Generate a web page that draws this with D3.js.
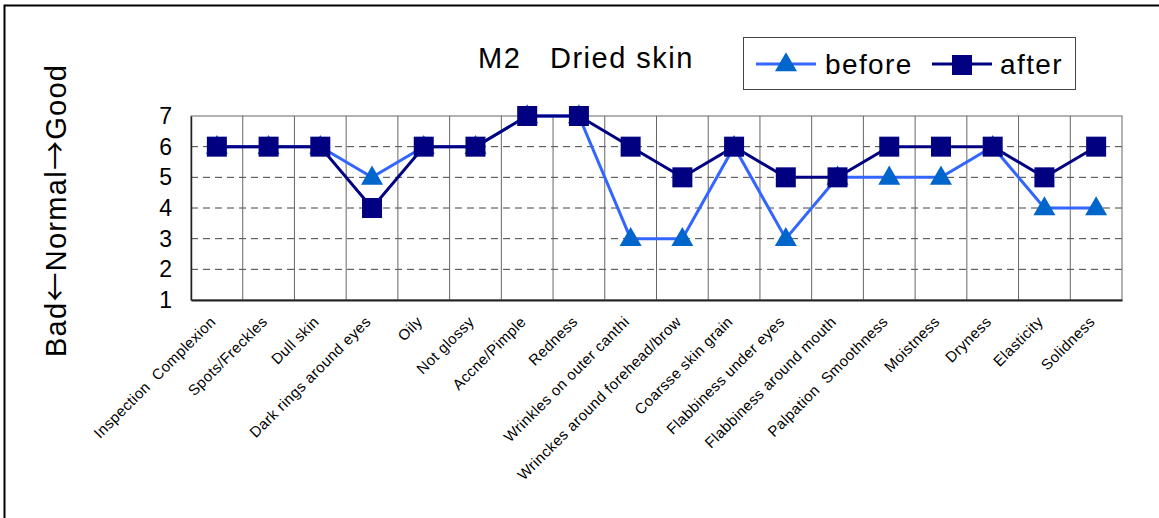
<!DOCTYPE html>
<html>
<head>
<meta charset="utf-8">
<script src="https://cdn.jsdelivr.net/npm/d3@7"></script>
<style>
  body { margin: 0; background: #fff; }
  svg { font-family: Arial, "Liberation Sans", sans-serif; }
</style>
</head>
<body>
<div id="chart"></div>
<script>
// data
const categories = ["Inspection  Complexion", "Spots/Freckles", "Dull skin", "Dark rings around eyes",
  "Oily", "Not glossy", "Accne/Pimple", "Redness", "Wrinkles on outer canthi",
  "Wrinckes around forehead/brow", "Coarsse skin grain", "Flabbiness under eyes",
  "Flabbiness around mouth", "Palpation  Smoothness", "Moistness", "Dryness", "Elasticity", "Solidness"];
const before = [6, 6, 6, 5, 6, 6, 7, 7, 3, 3, 6, 3, 5, 5, 5, 6, 4, 4];
const after = [6, 6, 6, 4, 6, 6, 7, 7, 6, 5, 6, 5, 5, 6, 6, 6, 5, 6];
const yTicks = [1, 2, 3, 4, 5, 6, 7];

const width = 1159, height = 518;
const margin = {top: 116, right: 37, bottom: 218, left: 191};
const font = "Arial, 'Liberation Sans', sans-serif";

const svg = d3.select("#chart")
              .append("svg")
              .attr("width", width)
              .attr("height", height);

// outer frame
svg.append("rect")
   .attr("x", 4.5).attr("y", 5.5)
   .attr("width", width + 10).attr("height", height + 10)
   .attr("fill", "none").attr("stroke", "#000").attr("stroke-width", 2);

const xScale = d3.scaleBand()
                 .domain(categories)
                 .range([margin.left, width - margin.right]);

const yScale = d3.scaleLinear()
                 .domain([1, 7])
                 .range([height - margin.bottom, margin.top]);

// horizontal dashed grid
svg.append("g")
   .selectAll("line")
   .data(yTicks.filter(t => t > 1 && t < 7))
   .enter()
   .append("line")
   .attr("x1", margin.left).attr("x2", width - margin.right)
   .attr("y1", d => yScale(d)).attr("y2", d => yScale(d))
   .attr("stroke", "#444").attr("stroke-dasharray", "7,5");

// vertical grid at category boundaries
svg.append("g")
   .selectAll("line")
   .data(categories.slice(1))
   .enter()
   .append("line")
   .attr("x1", d => xScale(d)).attr("x2", d => xScale(d))
   .attr("y1", margin.top).attr("y2", height - margin.bottom)
   .attr("stroke", "#666");

// plot border
svg.append("rect")
   .attr("x", margin.left).attr("y", margin.top)
   .attr("width", width - margin.left - margin.right)
   .attr("height", height - margin.top - margin.bottom)
   .attr("fill", "none").attr("stroke", "#666");

// y axis
const yAxis = svg.append("g")
   .attr("transform", `translate(${margin.left}, 0)`)
   .call(d3.axisLeft(yScale).tickValues(yTicks).tickFormat(d3.format("d")).tickSize(0).tickPadding(19));
yAxis.select(".domain").attr("stroke", "#222").attr("stroke-width", 1.5);
yAxis.selectAll("text").attr("font-size", "23px").attr("fill", "#000")
     .attr("font-family", font);

// x axis
const xAxis = svg.append("g")
   .attr("transform", `translate(0, ${height - margin.bottom})`)
   .call(d3.axisBottom(xScale).tickSize(0).tickPadding(0));
xAxis.select(".domain").attr("stroke", "#222").attr("stroke-width", 2);
xAxis.selectAll("text")
     .attr("font-size", "15px").attr("fill", "#000")
     .attr("font-family", font)
     .attr("letter-spacing", "0.4px")
     .style("white-space", "pre")
     .attr("text-anchor", "end")
     .attr("dy", "0.35em")
     .attr("transform", "translate(-4, 19) rotate(-45)")
     .attr("y", 0);

// lines
const line = d3.line()
               .x((d, i) => xScale(categories[i]) + xScale.bandwidth() / 2)
               .y(d => yScale(d));

svg.append("path").datum(before)
   .attr("d", line).attr("fill", "none")
   .attr("stroke", "#3366FF").attr("stroke-width", 3);

svg.append("path").datum(after)
   .attr("d", line).attr("fill", "none")
   .attr("stroke", "#000080").attr("stroke-width", 3);

const tri = d3.symbol().type(d3.symbolTriangle).size(210);

svg.append("g")
   .selectAll("path")
   .data(before)
   .enter()
   .append("path")
   .attr("d", tri)
   .attr("transform", (d, i) => `translate(${xScale(categories[i]) + xScale.bandwidth() / 2}, ${yScale(d) + 1})`)
   .attr("fill", "#0066CC");

svg.append("g")
   .selectAll("rect")
   .data(after)
   .enter()
   .append("rect")
   .attr("x", (d, i) => xScale(categories[i]) + xScale.bandwidth() / 2 - 10)
   .attr("y", d => yScale(d) - 10)
   .attr("width", 20).attr("height", 20)
   .attr("fill", "#000080");

// title
svg.append("text")
   .attr("x", 478).attr("y", 68)
   .attr("font-size", "29px")
   .attr("letter-spacing", "1.5px")
   .style("white-space", "pre")
   .text("M2   Dried skin");

// y label
const yLab = svg.append("text")
   .attr("transform", "translate(66, 211) rotate(-90)")
   .attr("text-anchor", "middle")
   .attr("font-size", "29px")
   .attr("textLength", 292)
   .attr("lengthAdjust", "spacing");
yLab.append("tspan").text("Bad");
yLab.append("tspan").attr("font-family", "'Noto Sans CJK JP'").text("←");
yLab.append("tspan").text("Normal");
yLab.append("tspan").attr("font-family", "'Noto Sans CJK JP'").text("→");
yLab.append("tspan").text("Good");

// legend
const legend = svg.append("g");
legend.append("rect")
      .attr("x", 743.5).attr("y", 37.5).attr("width", 332).attr("height", 52)
      .attr("fill", "#fff").attr("stroke", "#444");
legend.append("line")
      .attr("x1", 756).attr("x2", 816).attr("y1", 64).attr("y2", 64)
      .attr("stroke", "#3366FF").attr("stroke-width", 3);
legend.append("path")
      .attr("d", tri)
      .attr("transform", "translate(786, 65)")
      .attr("fill", "#0066CC");
legend.append("text")
      .attr("x", 825).attr("y", 74).attr("font-size", "28px")
      .attr("letter-spacing", "1.4px").text("before");
legend.append("line")
      .attr("x1", 932).attr("x2", 992).attr("y1", 64).attr("y2", 64)
      .attr("stroke", "#000080").attr("stroke-width", 3);
legend.append("rect")
      .attr("x", 952).attr("y", 55).attr("width", 20).attr("height", 20)
      .attr("fill", "#000080");
legend.append("text")
      .attr("x", 1000).attr("y", 74).attr("font-size", "28px")
      .attr("letter-spacing", "1.4px").text("after");
</script>
</body>
</html>
